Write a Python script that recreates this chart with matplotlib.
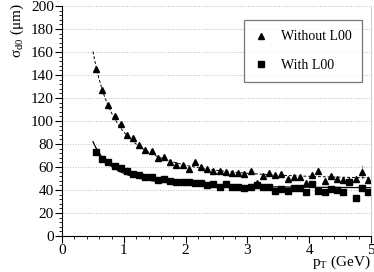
import numpy as np
import matplotlib
matplotlib.use('Agg')
import matplotlib.pyplot as plt
from matplotlib.ticker import MultipleLocator

plt.rcParams['font.family'] = ['Liberation Serif', 'DejaVu Serif']
plt.rcParams['mathtext.fontset'] = 'custom'
plt.rcParams['mathtext.rm'] = 'Liberation Serif'
plt.rcParams['mathtext.it'] = 'Liberation Serif'

pt = [0.55, 0.65, 0.75, 0.85, 0.95, 1.05, 1.15, 1.25, 1.35, 1.45,
      1.55, 1.65, 1.75, 1.85, 1.95, 2.05, 2.15, 2.25, 2.35, 2.45,
      2.55, 2.65, 2.75, 2.85, 2.95, 3.05, 3.15, 3.25, 3.35, 3.45,
      3.55, 3.65, 3.75, 3.85, 3.95, 4.05, 4.15, 4.25, 4.35, 4.45,
      4.55, 4.65, 4.75, 4.85, 4.95]

without_l00 = [145, 127, 114, 104, 97, 88, 85, 79, 75, 74,
               68, 69, 64, 62, 62, 58, 64, 60, 58, 57,
               57, 56, 55, 55, 54, 57, 46, 52, 55, 53,
               54, 50, 51, 51, 46, 53, 57, 48, 52, 50,
               49, 48, 50, 56, 49]
without_err = [2, 2, 2, 1.5, 1.5, 1.5, 1.5, 1, 1, 1,
               1, 1, 1, 1, 1, 1, 1, 1, 1, 1,
               1, 1, 1, 1, 1, 1, 1.5, 1.5, 1.5, 1.5,
               1.5, 1.5, 1.5, 1.5, 2, 2, 3, 2, 2, 2,
               2, 2, 2.5, 6, 3]

with_l00 = [73, 67, 64, 61, 59, 57, 54, 53, 51, 51,
            49, 50, 48, 47, 47, 47, 46, 46, 44, 45,
            43, 45, 43, 43, 42, 43, 44, 43, 43, 39,
            41, 39, 42, 42, 38, 45, 39, 38, 41, 40,
            38, 47, 33, 42, 38]
with_err = [1.5, 1.5, 1, 1, 1, 1, 1, 1, 1, 1,
            1, 1, 1, 1, 1, 1, 1, 1, 1, 1,
            1, 1, 1, 1, 1, 1, 1, 1, 1, 1,
            1, 1, 1, 1, 1.5, 1.5, 1.5, 1.5, 1.5, 1.5,
            1.5, 2, 2, 2, 2]


def fit_curve(x, y, xs):
    # sigma^2 = a^2 + (b/pT)^2, linear least squares
    x = np.asarray(x)
    y = np.asarray(y, dtype=float)
    A = np.column_stack([np.ones_like(x), 1.0 / x**2])
    coef, *_ = np.linalg.lstsq(A, y**2, rcond=None)
    return np.sqrt(coef[0] + coef[1] / xs**2)


xs = np.linspace(0.5, 5.0, 200)

fig = plt.figure(figsize=(3.74, 2.72), dpi=100)
ax = fig.add_axes([0.166, 0.132, 0.826, 0.846])

ax.yaxis.grid(True, linestyle=':', color='#bbbbbb', linewidth=0.7)
ax.set_axisbelow(True)

ax.errorbar(pt, without_l00, yerr=without_err, fmt='none', ecolor='#999999', elinewidth=0.8)
ax.errorbar(pt, with_l00, yerr=with_err, fmt='none', ecolor='#999999', elinewidth=0.8)
ax.plot(xs, fit_curve(pt, without_l00, xs), '--', color='black', linewidth=0.7, dashes=(3, 2))
ax.plot(xs, fit_curve(pt, with_l00, xs), '-', color='black', linewidth=0.9)
ax.plot(pt, without_l00, '^', color='black', markersize=4.4, linestyle='none', label='Without L00')
ax.plot(pt, with_l00, 's', color='black', markersize=4.4, linestyle='none', label='With L00')

ax.set_xlim(0, 5)
ax.set_ylim(0, 200)
ax.xaxis.set_major_locator(MultipleLocator(1))
ax.xaxis.set_minor_locator(MultipleLocator(0.2))
ax.yaxis.set_major_locator(MultipleLocator(20))
ax.yaxis.set_minor_locator(MultipleLocator(4))
ax.tick_params(which='major', direction='out', length=5, width=0.8, labelsize=11, pad=1)
ax.tick_params(which='minor', direction='out', length=2.5, width=0.6)

ax.spines['top'].set_visible(False)
ax.spines['right'].set_color('#cccccc')
ax.spines['right'].set_linewidth(0.7)

ax.set_ylabel(r'$\sigma_{\rm d0}$ ($\mu$m)', fontsize=11, loc='top')
ax.yaxis.set_label_coords(-0.118, 1.012)
ax.set_xlabel(r'p$_{\rm T}$ (GeV)', fontsize=11, loc='right')
ax.xaxis.set_label_coords(1.0, -0.075)

leg = ax.legend(loc='upper right', bbox_to_anchor=(0.971, 0.939), fontsize=10,
                frameon=True, fancybox=False, edgecolor='#555555',
                borderpad=0.75, labelspacing=1.1, handletextpad=0.9,
                handlelength=1.0, borderaxespad=0)
leg.get_frame().set_linewidth(0.9)

fig.savefig('out.png', dpi=100)
